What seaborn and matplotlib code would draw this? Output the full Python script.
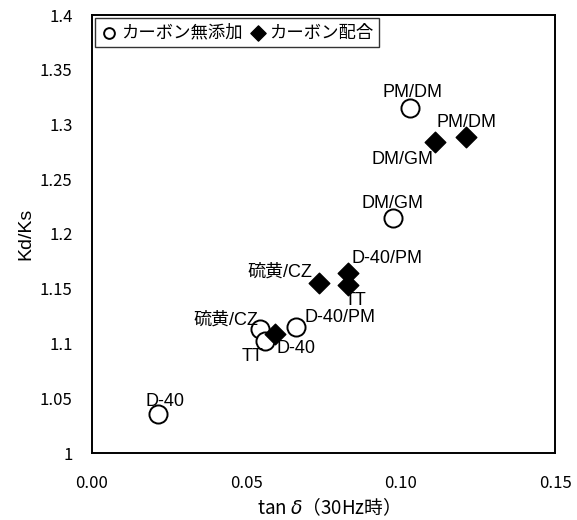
import matplotlib
matplotlib.use("Agg")
import matplotlib.pyplot as plt
import seaborn as sns
import pandas as pd

# --- data ---
open_names = ["D-40", "硫黄/CZ", "D-40", "D-40/PM", "DM/GM", "PM/DM"]
open_x = [0.0214, 0.0545, 0.0562, 0.0662, 0.0974, 0.1029]
open_y = [1.036, 1.113, 1.102, 1.115, 1.2146, 1.315]

fill_names = ["D-40", "硫黄/CZ", "D-40/PM", "D-40/PM", "DM/GM", "PM/DM"]
fill_x = [0.0594, 0.0734, 0.0828, 0.0828, 0.1110, 0.1211]
fill_y = [1.109, 1.155, 1.164, 1.153, 1.284, 1.2886]

series_labels = ["カーボン無添加", "カーボン配合"]
x_ticks = [0.00, 0.05, 0.10, 0.15]
x_ticklabels = ["0.00", "0.05", "0.10", "0.15"]
y_ticks = [1.0, 1.05, 1.1, 1.15, 1.2, 1.25, 1.3, 1.35, 1.4]
y_ticklabels = ["1", "1.05", "1.1", "1.15", "1.2", "1.25", "1.3", "1.35", "1.4"]

# annotation labels: (text, x, y) in data coords
annotations = [
    ("D-40", 0.0237, 1.0466),
    ("硫黄/CZ", 0.0435, 1.1215),
    ("TT", 0.0519, 1.0877),
    ("D-40", 0.0662, 1.0950),
    ("D-40/PM", 0.0805, 1.1233),
    ("硫黄/CZ", 0.0610, 1.1653),
    ("D-40/PM", 0.0955, 1.1772),
    ("TT", 0.0854, 1.1397),
    ("DM/GM", 0.0974, 1.2283),
    ("PM/DM", 0.1039, 1.3288),
    ("DM/GM", 0.1006, 1.2676),
    ("PM/DM", 0.1214, 1.3014),
]

sns.set_theme(style="white")
plt.rcParams["font.family"] = ["Liberation Sans Narrow", "Noto Sans CJK JP", "DejaVu Sans"]
plt.rcParams["mathtext.fontset"] = "dejavusans"
plt.rcParams["text.color"] = "black"
plt.rcParams["axes.labelcolor"] = "black"
plt.rcParams["xtick.color"] = "black"
plt.rcParams["ytick.color"] = "black"

fig = plt.figure(figsize=(5.77, 5.2), dpi=100)
ax = fig.add_axes([92 / 577, 1 - 453 / 520, (555 - 92) / 577, (453 - 15) / 520])

df_open = pd.DataFrame({"x": open_x, "y": open_y})
df_fill = pd.DataFrame({"x": fill_x, "y": fill_y})

sns.scatterplot(data=df_open, x="x", y="y", marker="o", s=170, color="white",
                edgecolor="black", linewidth=1.4, label=series_labels[0], ax=ax, zorder=3)
sns.scatterplot(data=df_fill, x="x", y="y", marker="D", s=110, color="black",
                edgecolor="black", linewidth=1.0, label=series_labels[1], ax=ax, zorder=4)

jp = ["Noto Sans CJK JP", "DejaVu Sans"]
for t, x, y in annotations:
    ax.text(x, y, t, ha="center", va="center", fontsize=13, color="black",
            family=["Liberation Sans", "Noto Sans CJK JP", "DejaVu Sans"], zorder=5)

ax.set_xlim(0, 0.15)
ax.set_ylim(1.0, 1.4)
ax.set_xticks(x_ticks)
ax.set_xticklabels(x_ticklabels)
ax.set_yticks(y_ticks)
ax.set_yticklabels(y_ticklabels)
ax.tick_params(axis="both", direction="in", length=3, width=0.8, labelsize=12,
               colors="black", labelcolor="black")
ax.tick_params(axis="y", pad=14)
ax.tick_params(axis="x", pad=16)

for sp in ax.spines.values():
    sp.set_color("black")
    sp.set_linewidth(1.4)

ax.set_xlabel("tan $\\delta$（30Hz時）", fontsize=13.5, family=jp, labelpad=3, color="black")
ax.set_ylabel("Kd/Ks", fontsize=14, family=["Liberation Sans", "DejaVu Sans"],
              labelpad=4, color="black")

leg = ax.legend(loc="upper left", ncol=2, frameon=True, fancybox=False,
                borderaxespad=0.2, handletextpad=0.15, columnspacing=0.4,
                borderpad=0.3, handlelength=1.0, prop={"family": jp, "size": 12.5})
leg.get_frame().set_edgecolor("black")
leg.get_frame().set_linewidth(1.0)
for txt in leg.get_texts():
    txt.set_color("black")
for h in leg.legend_handles:
    try:
        h.set_sizes([60])
    except Exception:
        pass

fig.savefig("out.png", dpi=100, facecolor="white")
